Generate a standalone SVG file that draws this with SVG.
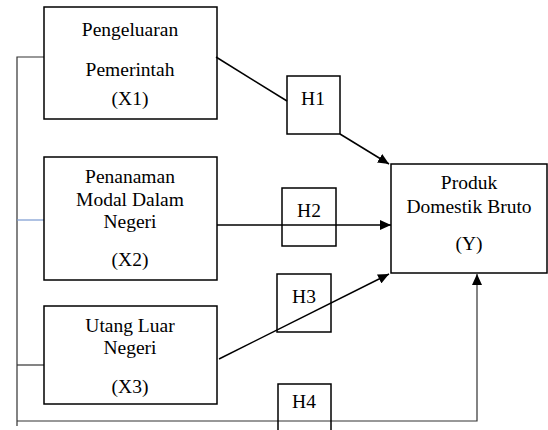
<svg xmlns="http://www.w3.org/2000/svg" width="548" height="430" viewBox="0 0 548 430">
<style>
.box{fill:none;stroke:#000;stroke-width:1.5}
.hbox{fill:none;stroke:#000;stroke-width:1.5}
.t{font-family:"Liberation Serif","Times New Roman",serif;font-size:19.5px;fill:#000;text-anchor:middle}
.ln{fill:none;stroke:#000;stroke-width:1.5}
.thin{fill:none;stroke:#333;stroke-width:1.2}
</style>
<defs>
<marker id="ah" markerUnits="userSpaceOnUse" markerWidth="12" markerHeight="10" refX="11" refY="5" orient="auto">
<path d="M0,0 L11,5 L0,10 Z" fill="#000"/>
</marker>
</defs>
<rect width="548" height="430" fill="#fff"/>
<g id="connectors">
<polyline class="thin" points="44,57 17,57 17,426"/>
<line x1="17" y1="220" x2="44" y2="220" stroke="#7a9ad0" stroke-width="1.2"/>
<line class="thin" x1="17" y1="365" x2="44" y2="365"/>
<line class="ln" x1="216" y1="57" x2="287" y2="101"/>
<line class="ln" x1="340" y1="134" x2="389" y2="164" marker-end="url(#ah)"/>
<line class="ln" x1="217" y1="225" x2="391" y2="225" marker-end="url(#ah)"/>
<line class="ln" x1="219" y1="359" x2="389" y2="274" marker-end="url(#ah)"/>
<polyline class="thin" points="17,421 477,421 477,274" marker-end="url(#ah)"/>
</g>
<g id="X1">
<rect class="box" x="44" y="7" width="173" height="112"/>
<text class="t" x="130" y="36">Pengeluaran</text>
<text class="t" x="130" y="76">Pemerintah</text>
<text class="t" x="130" y="105">(X1)</text>
</g>
<g id="X2">
<rect class="box" x="44" y="157" width="173" height="123"/>
<text class="t" x="130" y="183">Penanaman</text>
<text class="t" x="130" y="206">Modal Dalam</text>
<text class="t" x="130" y="228">Negeri</text>
<text class="t" x="130" y="266">(X2)</text>
</g>
<g id="X3">
<rect class="box" x="44" y="306" width="173" height="98"/>
<text class="t" x="130" y="332">Utang Luar</text>
<text class="t" x="130" y="354">Negeri</text>
<text class="t" x="130" y="393">(X3)</text>
</g>
<g id="Y">
<rect class="box" x="391" y="164" width="156" height="109"/>
<text class="t" x="469" y="189">Produk</text>
<text class="t" x="469" y="213">Domestik Bruto</text>
<text class="t" x="469" y="250">(Y)</text>
</g>
<g id="H1">
<rect class="hbox" x="287" y="76" width="53" height="58"/>
<text class="t" x="313" y="105">H1</text>
</g>
<g id="H2">
<rect class="hbox" x="282" y="188" width="54" height="58"/>
<text class="t" x="309" y="217">H2</text>
</g>
<g id="H3">
<rect class="hbox" x="277" y="274" width="54" height="58"/>
<text class="t" x="304" y="303">H3</text>
</g>
<g id="H4">
<rect class="hbox" x="278" y="384" width="53" height="50"/>
<text class="t" x="304" y="408">H4</text>
</g>
</svg>
